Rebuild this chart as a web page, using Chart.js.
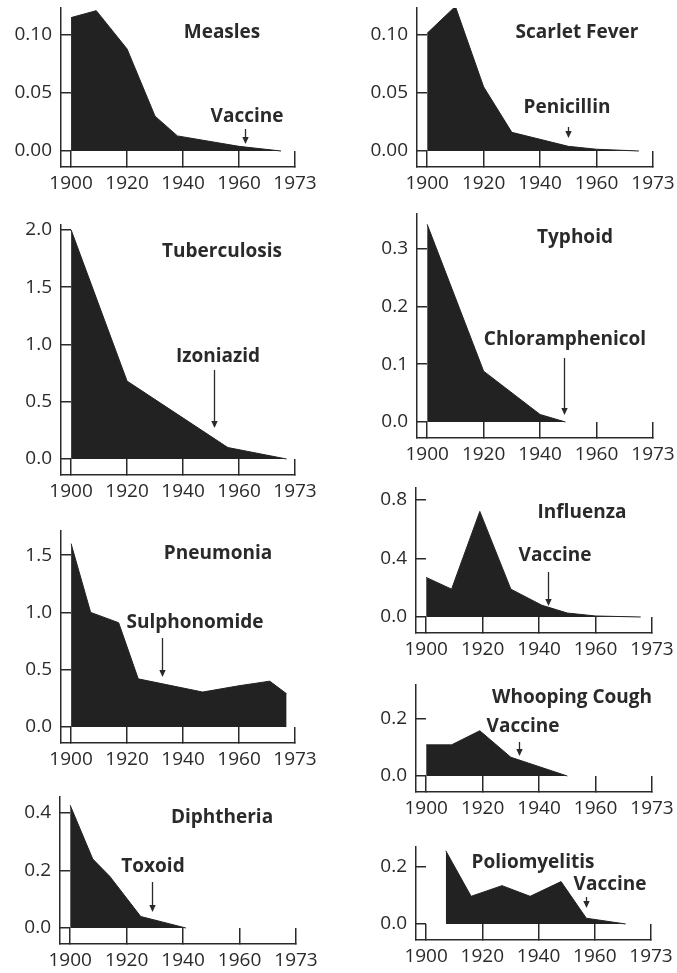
<!DOCTYPE html>
<html>
<head>
<meta charset="utf-8">
<script src="https://cdn.jsdelivr.net/npm/chart.js@4.4.1/dist/chart.umd.min.js"></script>
<style>
html, body { margin: 0; padding: 0; background: #fff; }
#wrap { position: relative; width: 677px; height: 973px; overflow: hidden; background: #fff; }
#wrap canvas { position: absolute; }
</style>
</head>
<body>
<div id="wrap"></div>
<script>
// death rates per 1000
const diseases = ['Measles', 'Scarlet Fever', 'Tuberculosis', 'Typhoid', 'Pneumonia',
                  'Influenza', 'Whooping Cough', 'Diphtheria', 'Poliomyelitis'];
const interventions = ['Vaccine', 'Penicillin', 'Izoniazid', 'Chloramphenicol', 'Sulphonomide',
                       'Vaccine', 'Vaccine', 'Toxoid', 'Vaccine'];
const interventionYears = [1962, 1950, 1951, 1948.5, 1932.6, 1943, 1933, 1929, 1957];

const xTickYears = [1900, 1920, 1940, 1960, 1980];
const xTickLabels = ['1900', '1920', '1940', '1960', '1973'];

const measlesYears = [1900, 1909, 1920, 1930, 1938, 1960, 1975];
const measlesRates = [0.115, 0.121, 0.088, 0.030, 0.013, 0.004, 0];
const measlesTicks = [0, 0.05, 0.10];
const measlesTickLabels = ['0.00', '0.05', '0.10'];

const scarletYears = [1900, 1910, 1920, 1930, 1940, 1950, 1960, 1975];
const scarletRates = [0.101, 0.124, 0.055, 0.016, 0.010, 0.004, 0.0015, 0];
const scarletTicks = [0, 0.05, 0.10];
const scarletTickLabels = ['0.00', '0.05', '0.10'];

const tbYears = [1900, 1920, 1956, 1977];
const tbRates = [2.0, 0.68, 0.10, 0];
const tbTicks = [0, 0.5, 1.0, 1.5, 2.0];
const tbTickLabels = ['0.0', '0.5', '1.0', '1.5', '2.0'];

const typhoidYears = [1900, 1920, 1940, 1949];
const typhoidRates = [0.342, 0.088, 0.013, 0];
const typhoidTicks = [0, 0.1, 0.2, 0.3];
const typhoidTickLabels = ['0.0', '0.1', '0.2', '0.3'];

const pneumoniaYears = [1900, 1907, 1917, 1924, 1947, 1960, 1971, 1977];
const pneumoniaRates = [1.6, 1.0, 0.91, 0.42, 0.305, 0.36, 0.40, 0.29];
const pneumoniaTicks = [0, 0.5, 1.0, 1.5];
const pneumoniaTickLabels = ['0.0', '0.5', '1.0', '1.5'];

const influenzaYears = [1900, 1909, 1919, 1930, 1941, 1950, 1960, 1976];
const influenzaRates = [0.27, 0.19, 0.72, 0.19, 0.08, 0.027, 0.007, 0];
const influenzaTicks = [0, 0.4, 0.8];
const influenzaTickLabels = ['0.0', '0.4', '0.8'];

const whoopingYears = [1900, 1909, 1919, 1930, 1950];
const whoopingRates = [0.108, 0.108, 0.157, 0.065, 0];
const whoopingTicks = [0, 0.2];
const whoopingTickLabels = ['0.0', '0.2'];

const diphtheriaYears = [1900, 1908, 1914, 1925, 1941];
const diphtheriaRates = [0.427, 0.24, 0.18, 0.04, 0];
const diphtheriaTicks = [0, 0.2, 0.4];
const diphtheriaTickLabels = ['0.0', '0.2', '0.4'];

const polioYears = [1907, 1916, 1927, 1937, 1948, 1957, 1971];
const polioRates = [0.254, 0.096, 0.133, 0.096, 0.147, 0.02, 0];
const polioTicks = [0, 0.2];
const polioTickLabels = ['0.0', '0.2'];

const seriesYears = [measlesYears, scarletYears, tbYears, typhoidYears, pneumoniaYears,
                     influenzaYears, whoopingYears, diphtheriaYears, polioYears];
const seriesRates = [measlesRates, scarletRates, tbRates, typhoidRates, pneumoniaRates,
                     influenzaRates, whoopingRates, diphtheriaRates, polioRates];
const seriesTicks = [measlesTicks, scarletTicks, tbTicks, typhoidTicks, pneumoniaTicks,
                     influenzaTicks, whoopingTicks, diphtheriaTicks, polioTicks];
const seriesTickLabels = [measlesTickLabels, scarletTickLabels, tbTickLabels, typhoidTickLabels,
                          pneumoniaTickLabels, influenzaTickLabels, whoopingTickLabels,
                          diphtheriaTickLabels, polioTickLabels];

// page layout: axis box (l,t,r,b), px per unit, title/label centres, arrow tail/tip
const panels = [
  { l: 61,  t: 8,   r: 295, b: 167, unit: 1160,  title: [222, 33],  label: [247, 117], arrow: [129, 144] },
  { l: 417, t: 8,   r: 653, b: 167, unit: 1166,  title: [577, 33],  label: [567, 108], arrow: [127, 138] },
  { l: 61,  t: 225, r: 295, b: 475, unit: 114.6, title: [222, 252], label: [218, 357], arrow: [370, 428] },
  { l: 417, t: 214, r: 653, b: 438, unit: 578,   title: [575, 238], label: [565, 340], arrow: [358, 415] },
  { l: 61,  t: 531, r: 295, b: 743, unit: 114.6, title: [218, 554], label: [195, 623], arrow: [638, 677] },
  { l: 416, t: 488, r: 652, b: 633, unit: 146.7, title: [582, 513], label: [555, 556], arrow: [572, 606] },
  { l: 416, t: 685, r: 652, b: 792, unit: 288.3, title: [572, 698], label: [523, 727], arrow: [742, 756] },
  { l: 60,  t: 797, r: 296, b: 944, unit: 287.5, title: [222, 818], label: [153, 867], arrow: [882, 912] },
  { l: 416, t: 847, r: 651, b: 940, unit: 288.3, title: [533, 863], label: [610, 885], arrow: [897, 908] }
];

const INK = '#2a2a2a';
const FILL = '#222222';
const ZERO_DROP = 16;     // zero line sits this far above the x axis line
const M_LEFT = 60, M_TOP = 12, M_RIGHT = 30, M_BOTTOM = 30;
const FONT = '"Open Sans", "DejaVu Sans", sans-serif';

const panelText = {
  id: 'panelText',
  afterDraw(chart) {
    const p = chart.options.plugins.panelText;
    const ctx = chart.ctx;
    ctx.save();
    ctx.fillStyle = INK;
    ctx.strokeStyle = INK;
    ctx.font = 'bold 19px ' + FONT;
    ctx.textAlign = 'center';
    ctx.textBaseline = 'middle';
    ctx.fillText(p.title, p.titleX, p.titleY);
    ctx.fillText(p.label, p.labelX, p.labelY);
    // arrow down to the intervention year
    const ax = Math.round(chart.scales.x.getPixelForValue(p.year)) + 0.5;
    ctx.lineWidth = 1.3;
    ctx.beginPath();
    ctx.moveTo(ax, p.tail);
    ctx.lineTo(ax, p.tip - 5);
    ctx.stroke();
    ctx.beginPath();
    ctx.moveTo(ax - 3.2, p.tip - 7);
    ctx.lineTo(ax + 3.2, p.tip - 7);
    ctx.lineTo(ax, p.tip);
    ctx.closePath();
    ctx.fill();
    ctx.restore();
  }
};

const wrap = document.getElementById('wrap');

panels.forEach(function(p, i) {
  const canvas = document.createElement('canvas');
  const cw = (p.r - p.l) + M_LEFT + M_RIGHT;
  const ch = (p.b - p.t) + M_TOP + M_BOTTOM;
  const ox = p.l - M_LEFT, oy = p.t - M_TOP;
  canvas.width = cw;
  canvas.height = ch;
  canvas.style.left = ox + 'px';
  canvas.style.top = oy + 'px';
  canvas.style.width = cw + 'px';
  canvas.style.height = ch + 'px';
  wrap.appendChild(canvas);

  const yMax = (p.b - ZERO_DROP - p.t) / p.unit;
  const yMin = -ZERO_DROP / p.unit;
  const ticks = seriesTicks[i];
  const tickLabels = seriesTickLabels[i];

  new Chart(canvas, {
    type: 'line',
    data: {
      datasets: [{
        data: seriesYears[i].map((yr, k) => ({ x: yr, y: seriesRates[i][k] })),
        fill: 'origin',
        backgroundColor: FILL,
        borderColor: FILL,
        borderWidth: 1,
        pointRadius: 0,
        tension: 0
      }]
    },
    options: {
      responsive: false,
      animation: false,
      devicePixelRatio: 1,
      layout: { padding: { left: 0, top: M_TOP, right: M_RIGHT, bottom: 0 } },
      plugins: {
        legend: { display: false },
        tooltip: { enabled: false },
        panelText: {
          title: diseases[i],
          label: interventions[i],
          year: interventionYears[i],
          titleX: p.title[0] - ox, titleY: p.title[1] - oy,
          labelX: p.label[0] - ox, labelY: p.label[1] - oy,
          tail: p.arrow[0] - oy, tip: p.arrow[1] - oy
        }
      },
      scales: {
        x: {
          type: 'linear',
          min: 1896.4,
          max: 1980,
          afterBuildTicks: s => { s.ticks = xTickYears.map(v => ({ value: v })); },
          afterFit: s => {
            s.height = M_BOTTOM;
            s.paddingLeft = 0; s.paddingRight = 0; s.paddingTop = 0; s.paddingBottom = 0;
          },
          border: { display: true, color: INK, width: 1.5 },
          grid: { drawOnChartArea: false, drawTicks: true, tickLength: -ZERO_DROP, color: INK, lineWidth: 1.5 },
          ticks: {
            padding: ZERO_DROP + 5,
            maxRotation: 0,
            autoSkip: false,
            color: INK,
            font: { family: FONT, size: 19 },
            callback: (v, idx) => xTickLabels[idx]
          }
        },
        y: {
          min: yMin,
          max: yMax,
          afterBuildTicks: s => { s.ticks = ticks.map(v => ({ value: v })); },
          afterFit: s => {
            s.width = M_LEFT;
            s.paddingLeft = 0; s.paddingRight = 0; s.paddingTop = 0; s.paddingBottom = 0;
          },
          border: { display: true, color: INK, width: 1.5 },
          grid: { drawOnChartArea: false, drawTicks: true, tickLength: -10, color: INK, lineWidth: 1.5 },
          ticks: {
            padding: 19,
            color: INK,
            font: { family: FONT, size: 19 },
            callback: (v, idx) => tickLabels[idx]
          }
        }
      }
    },
    plugins: [panelText]
  });
});
</script>
</body>
</html>
